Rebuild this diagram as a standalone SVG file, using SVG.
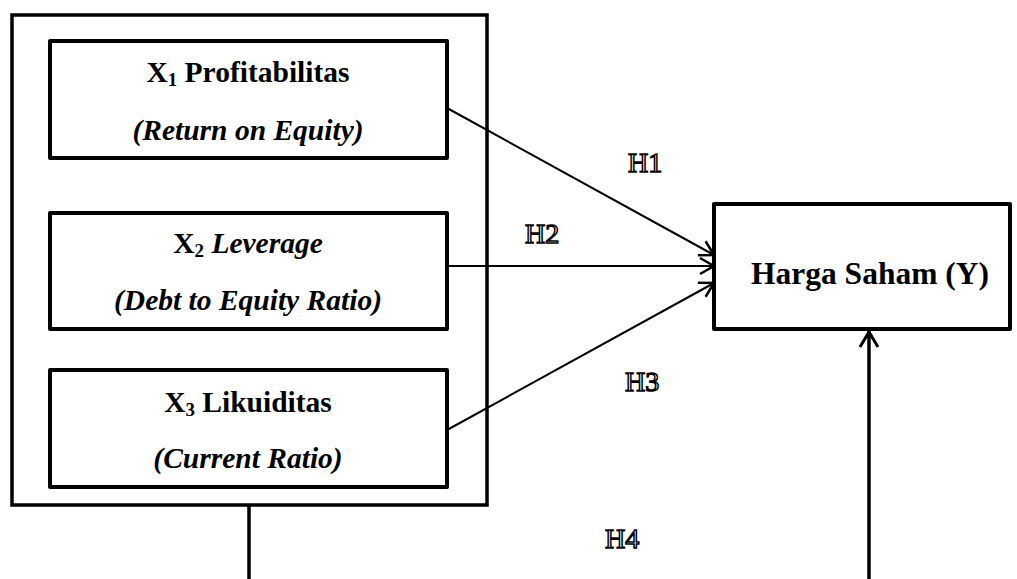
<svg xmlns="http://www.w3.org/2000/svg" width="1017" height="579" viewBox="0 0 1017 579">
<defs>
<style>
.box{fill:#fff;stroke:#000;stroke-width:4;stroke-linejoin:round}
.outer{fill:none;stroke:#000;stroke-width:3.5}
.t{font-weight:bold;font-size:29.5px;text-anchor:middle;fill:#000}
.big{font-size:31.5px}
.i{font-style:italic}
.h{font-size:28px;fill:#fff;stroke:#000;stroke-width:1.5}
.con{fill:none;stroke:#000;stroke-width:2}
.vl{fill:none;stroke:#000;stroke-width:3.5}
</style>
<marker id="arr" viewBox="0 0 20 20" refX="18" refY="10" markerWidth="20" markerHeight="20" markerUnits="userSpaceOnUse" orient="auto">
<polyline points="4,2 18,10 4,18" fill="none" stroke="#000" stroke-width="2.5"/>
</marker>
<marker id="arr2" viewBox="0 0 24 24" refX="22" refY="12" markerWidth="24" markerHeight="24" markerUnits="userSpaceOnUse" orient="auto">
<polyline points="6,3 21,12 6,21" fill="none" stroke="#000" stroke-width="3"/>
</marker>
</defs>
<rect width="1017" height="579" fill="#fff"/>
<g font-family="Liberation Serif, Times New Roman, DejaVu Serif, serif">
<g id="group-x">
<rect class="outer" x="12" y="15" width="475" height="490"/>
</g>
<g id="x1">
<rect class="box" x="50" y="41" width="397" height="117"/>
<text class="t" x="248" y="82">X<tspan font-size="19" dy="4">1</tspan><tspan dy="-4"> Profitabilitas</tspan></text>
<text class="t i" x="248" y="140">(Return on Equity)</text>
</g>
<g id="x2">
<rect class="box" x="50" y="213" width="397" height="116"/>
<text class="t" x="248" y="253">X<tspan font-size="19" dy="4">2</tspan><tspan dy="-4" class="i"> Leverage</tspan></text>
<text class="t i" x="248" y="310">(Debt to Equity Ratio)</text>
</g>
<g id="x3">
<rect class="box" x="50" y="370" width="397" height="117"/>
<text class="t" x="248" y="412">X<tspan font-size="19" dy="4">3</tspan><tspan dy="-4"> Likuiditas</tspan></text>
<text class="t" x="248" y="468"><tspan class="i">(Current Ratio)</tspan></text>
</g>
<g id="y">
<rect class="box" x="714" y="204" width="296" height="125"/>
<text class="t big" x="870" y="284">Harga Saham (Y)</text>
</g>
<g id="connectors">
<line class="con" x1="447" y1="108" x2="714" y2="255" marker-end="url(#arr)"/>
<line class="con" x1="447" y1="266" x2="714" y2="266" marker-end="url(#arr)"/>
<line class="con" x1="447" y1="430" x2="714" y2="283" marker-end="url(#arr)"/>
<line class="vl" x1="249" y1="505" x2="249" y2="579"/>
<line class="vl" x1="869" y1="579" x2="869" y2="331" marker-end="url(#arr2)"/>
</g>
<g id="labels">
<text class="h" x="628" y="172">H1</text>
<text class="h" x="525" y="243">H2</text>
<text class="h" x="625" y="391">H3</text>
<text class="h" x="605" y="548">H4</text>
</g>
</g>
</svg>
